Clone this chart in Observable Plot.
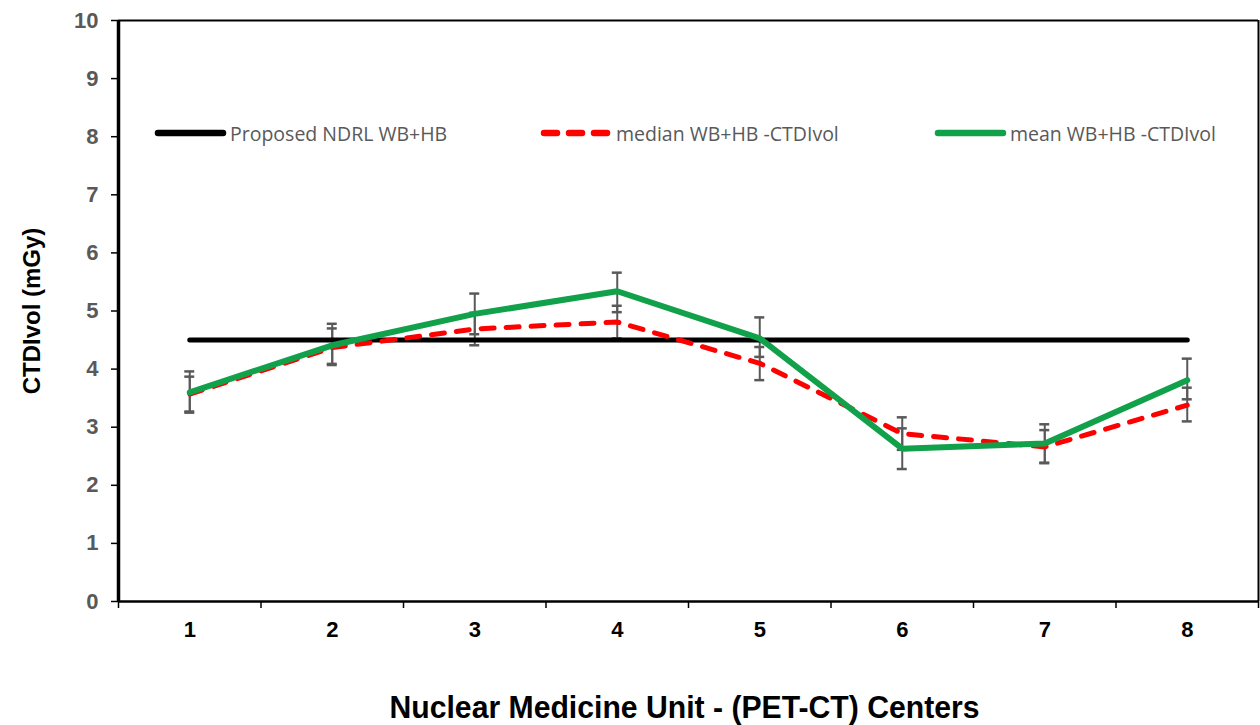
<!DOCTYPE html>
<html>
<head>
<meta charset="utf-8">
<script src="https://cdn.jsdelivr.net/npm/d3@7"></script>
<script src="https://cdn.jsdelivr.net/npm/@observablehq/plot@0.6"></script>
<style>
  html, body { margin: 0; padding: 0; background: #fff; }
  #wrap { position: relative; width: 1260px; height: 725px; }
  .leg { position: absolute; display: flex; align-items: center; white-space: nowrap;
         font-family: "Open Sans", "DejaVu Sans", sans-serif; font-size: 19.5px; color: #595959;
         transform-origin: left center; }
  .leg svg { display: block; margin-right: 3px; }
</style>
</head>
<body>
<div id="wrap"></div>
<script>
// ---- data ----
const centers   = [1, 2, 3, 4, 5, 6, 7, 8];
const ndrl      = [4.5, 4.5, 4.5, 4.5, 4.5, 4.5, 4.5, 4.5];
const median    = [3.57, 4.37, 4.69, 4.81, 4.10, 2.89, 2.66, 3.38];
const medianLo  = [3.27, 4.09, 4.41, 4.53, 3.81, 2.61, 2.38, 3.10];
const medianHi  = [3.87, 4.70, 4.97, 5.09, 4.38, 3.17, 2.95, 3.68];
const mean      = [3.60, 4.41, 4.95, 5.34, 4.53, 2.63, 2.72, 3.81];
const meanLo    = [3.25, 4.07, 4.60, 4.98, 4.21, 2.28, 2.39, 3.48];
const meanHi    = [3.96, 4.78, 5.30, 5.66, 4.89, 2.98, 3.05, 4.18];
const yTicks    = [0, 1, 2, 3, 4, 5, 6, 7, 8, 9, 10];
const xLabels   = ["1", "2", "3", "4", "5", "6", "7", "8"];
const seriesNames = ["Proposed NDRL WB+HB", "median WB+HB -CTDIvol", "mean WB+HB -CTDIvol"];
const yTitle = "CTDIvol (mGy)";
const xTitle = "Nuclear Medicine Unit - (PET-CT) Centers";

const rows = centers.map((c, i) => ({
  x: c, ndrl: ndrl[i], median: median[i], medianLo: medianLo[i], medianHi: medianHi[i],
  mean: mean[i], meanLo: meanLo[i], meanHi: meanHi[i]
}));
const bounds = d3.range(centers.length + 1).map(i => centers[0] - 0.5 + i);
const capHalf = 0.035;

const narrow = "Liberation Sans Narrow, Arial Narrow, sans-serif";
const errColor = "#595959";
const errMarks = (lo, hi) => [
  Plot.ruleX(rows, {x: "x", y1: lo, y2: hi, stroke: errColor, strokeWidth: 2}),
  Plot.ruleY(rows, {y: lo, x1: d => d.x - capHalf, x2: d => d.x + capHalf, stroke: errColor, strokeWidth: 2.5}),
  Plot.ruleY(rows, {y: hi, x1: d => d.x - capHalf, x2: d => d.x + capHalf, stroke: errColor, strokeWidth: 2.5})
];

const chart = Plot.plot({
  width: 1260,
  height: 725,
  marginLeft: 118,
  marginRight: 2,
  marginTop: 20,
  marginBottom: 124,
  x: {domain: [bounds[0], bounds[bounds.length - 1]]},
  y: {domain: [0, 10]},
  marks: [
    // axes
    Plot.axisY({ticks: yTicks, tickSize: 7, tickPadding: 13, label: null, stroke: "black", strokeWidth: 1.5,
      fill: "#595959", fontSize: 22, fontWeight: "bold", fontFamily: narrow}),
    Plot.axisX({ticks: bounds, tickSize: 7, tickFormat: () => "", label: null, stroke: "black", strokeWidth: 1.5}),
    Plot.axisX({ticks: centers, tickSize: 0, tickPadding: 20, label: null, tickFormat: (d, i) => xLabels[i],
      fill: "black", fontSize: 22, fontWeight: "bold", fontFamily: narrow}),
    Plot.ruleY([10], {stroke: "black", strokeWidth: 2}),
    Plot.ruleX([bounds[bounds.length - 1]], {stroke: "black", strokeWidth: 2}),
    Plot.ruleY([0], {stroke: "black", strokeWidth: 2.5}),
    Plot.ruleX([bounds[0]], {stroke: "black", strokeWidth: 3.5}),
    // titles
    Plot.text([yTitle], {text: d => d, frameAnchor: "left", textAnchor: "middle", rotate: -90, dx: -86,
      fontSize: 24, fontWeight: "bold", fill: "black", fontFamily: "Liberation Sans, Arial, sans-serif"}),
    Plot.text([xTitle], {text: d => d, frameAnchor: "bottom", textAnchor: "middle", dx: -4, dy: 106, lineAnchor: "middle",
      fontSize: 32, fontWeight: "bold", fill: "black", fontFamily: narrow, className: "xtitle"}),
    // error bars
    ...errMarks("medianLo", "medianHi"),
    ...errMarks("meanLo", "meanHi"),
    // lines
    Plot.line(rows, {x: "x", y: "ndrl", stroke: "black", strokeWidth: 5, strokeLinecap: "round"}),
    Plot.line(rows, {x: "x", y: "median", stroke: "#ff0000", strokeWidth: 5, strokeDasharray: "13,12", strokeLinecap: "round"}),
    Plot.line(rows, {x: "x", y: "mean", stroke: "#12a14b", strokeWidth: 6, strokeLinecap: "round", strokeLinejoin: "round"})
  ]
});

// condense the x-axis title like the reference's narrow face
d3.select(chart).selectAll("g.xtitle text")
  .attr("textLength", 590)
  .attr("lengthAdjust", "spacingAndGlyphs");

const wrap = document.getElementById("wrap");
wrap.appendChild(chart);

// legend (overlaid inside the plot area, as in the reference)
const legendItems = [
  {name: seriesNames[0], color: "black", dash: null, left: 153},
  {name: seriesNames[1], color: "#ff0000", dash: "13,12", left: 539},
  {name: seriesNames[2], color: "#12a14b", dash: null, left: 933}
];
for (const it of legendItems) {
  const div = document.createElement("div");
  div.className = "leg";
  div.style.left = it.left + "px";
  div.style.top = "121px";
  div.style.height = "24px";
  div.innerHTML =
    `<svg width="74" height="24"><line x1="5" y1="12" x2="70" y2="12" stroke="${it.color}" stroke-width="6.5" stroke-linecap="round"${it.dash ? ` stroke-dasharray="${it.dash}"` : ""}/></svg><span>${it.name}</span>`;
  wrap.appendChild(div);
}
</script>
</body>
</html>
